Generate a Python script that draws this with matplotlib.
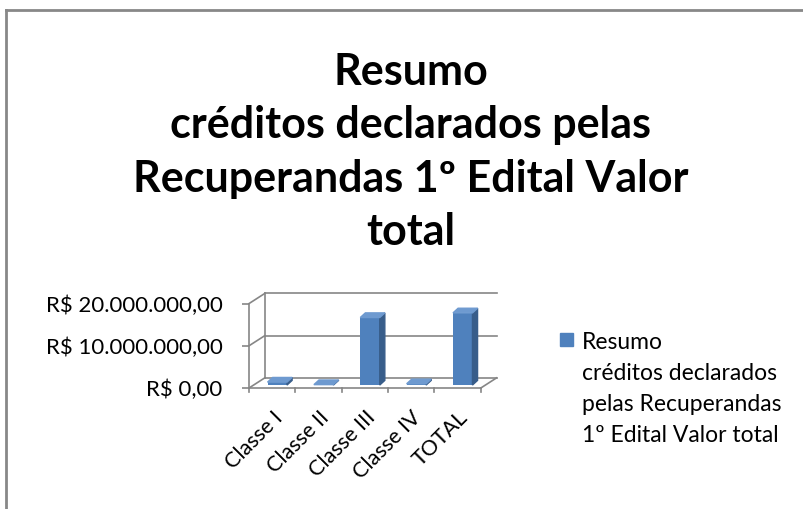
import numpy as np
import matplotlib
matplotlib.use("Agg")
import matplotlib.pyplot as plt
from matplotlib.patches import Polygon, Rectangle
from matplotlib.lines import Line2D

categories = ['Classe I', 'Classe II', 'Classe III', 'Classe IV', 'TOTAL']
values = [0.7e6, 0.1e6, 16.0e6, 0.3e6, 17.1e6]
yticks = [0, 10e6, 20e6]
ytick_labels = ['R$ 0,00', 'R$ 10.000.000,00', 'R$ 20.000.000,00']
title = 'Resumo\ncréditos declarados pelas\nRecuperandas 1º Edital Valor\ntotal'
series_name = 'Resumo\ncréditos declarados\npelas Recuperandas\n1º Edital Valor total'

plt.rcParams['font.family'] = ['Lato', 'DejaVu Sans']

front_c = '#4F81BD'
side_c = '#385D8A'
top_c = '#6E9AD0'
grid_c = '#868686'

fig = plt.figure(figsize=(8.04, 5.09), dpi=100)

# chart border (only top and left visible in the crop)
fig.add_artist(Line2D([0.0075, 0.0075], [0, 0.981], transform=fig.transFigure, color='#888888', lw=2))
fig.add_artist(Line2D([0.0075, 1.0], [0.981, 0.981], transform=fig.transFigure, color='#888888', lw=2))

fig.text(0.511, 0.519, title, ha='center', va='baseline', fontsize=31, fontweight='bold',
         linespacing=1.4)

ax = fig.add_axes([0.3097, 0.2377, 0.3085, 0.1866])
ax.set_xlim(-0.5, 4.85)
ax.set_ylim(0, 22.5e6)
for s in ax.spines.values():
    s.set_visible(False)

# 3D depth of the walls
dx, dy = 0.34, 2.4e6
x = np.arange(len(categories))
lk = dict(color=grid_c, lw=1.2, clip_on=False)

# back wall gridlines and left wall
for t in yticks:
    ax.plot([-0.5 + dx, 4.5 + dx], [t + dy, t + dy], **lk)
    ax.plot([-0.5, -0.5 + dx], [t, t + dy], **lk)
ax.plot([-0.5 + dx, -0.5 + dx], [dy, yticks[-1] + dy], **lk)
ax.plot([-0.5, -0.5], [0, yticks[-1]], **lk)
# floor
ax.plot([-0.5, 4.5], [0, 0], **lk)
ax.plot([4.5, 4.5 + dx], [0, dy], **lk)
# category tick marks
for b in np.arange(-0.5, 5.0, 1.0):
    ax.plot([b, b], [0, -1.0e6], **lk)

# bars with pseudo-3D faces
shift, lift = 0.11, 0.7e6
bw = 0.42
bdx, bdy = 0.11, 1.1e6
bars = ax.bar(x + shift, values, width=bw, bottom=lift, color=front_c, zorder=3)
for r in bars:
    x0, y0 = r.get_x(), r.get_y()
    w, h = r.get_width(), r.get_height()
    ax.add_patch(Polygon([[x0 + w, y0], [x0 + w + bdx, y0 + bdy], [x0 + w + bdx, y0 + h + bdy],
                          [x0 + w, y0 + h]], closed=True, color=side_c, zorder=3))
    ax.add_patch(Polygon([[x0, y0 + h], [x0 + w, y0 + h], [x0 + w + bdx, y0 + h + bdy],
                          [x0 + bdx, y0 + h + bdy]], closed=True, color=top_c, zorder=3))

ax.set_yticks(yticks)
ax.set_yticklabels(ytick_labels, fontsize=16)
ax.tick_params(axis='y', length=5, color=grid_c, width=1.2, pad=14)
ax.set_xticks(x)
ax.set_xticklabels(categories, fontsize=15.5, rotation=45, ha='right', rotation_mode='anchor')
ax.tick_params(axis='x', length=0, pad=14)

# legend
fig.add_artist(Rectangle((0.6965, 0.320), 0.0162, 0.0255, transform=fig.transFigure,
                         color=front_c))
fig.text(0.724, 0.348, series_name, ha='left', va='top', fontsize=16.5, linespacing=1.6)

fig.savefig('out.png', dpi=100)
